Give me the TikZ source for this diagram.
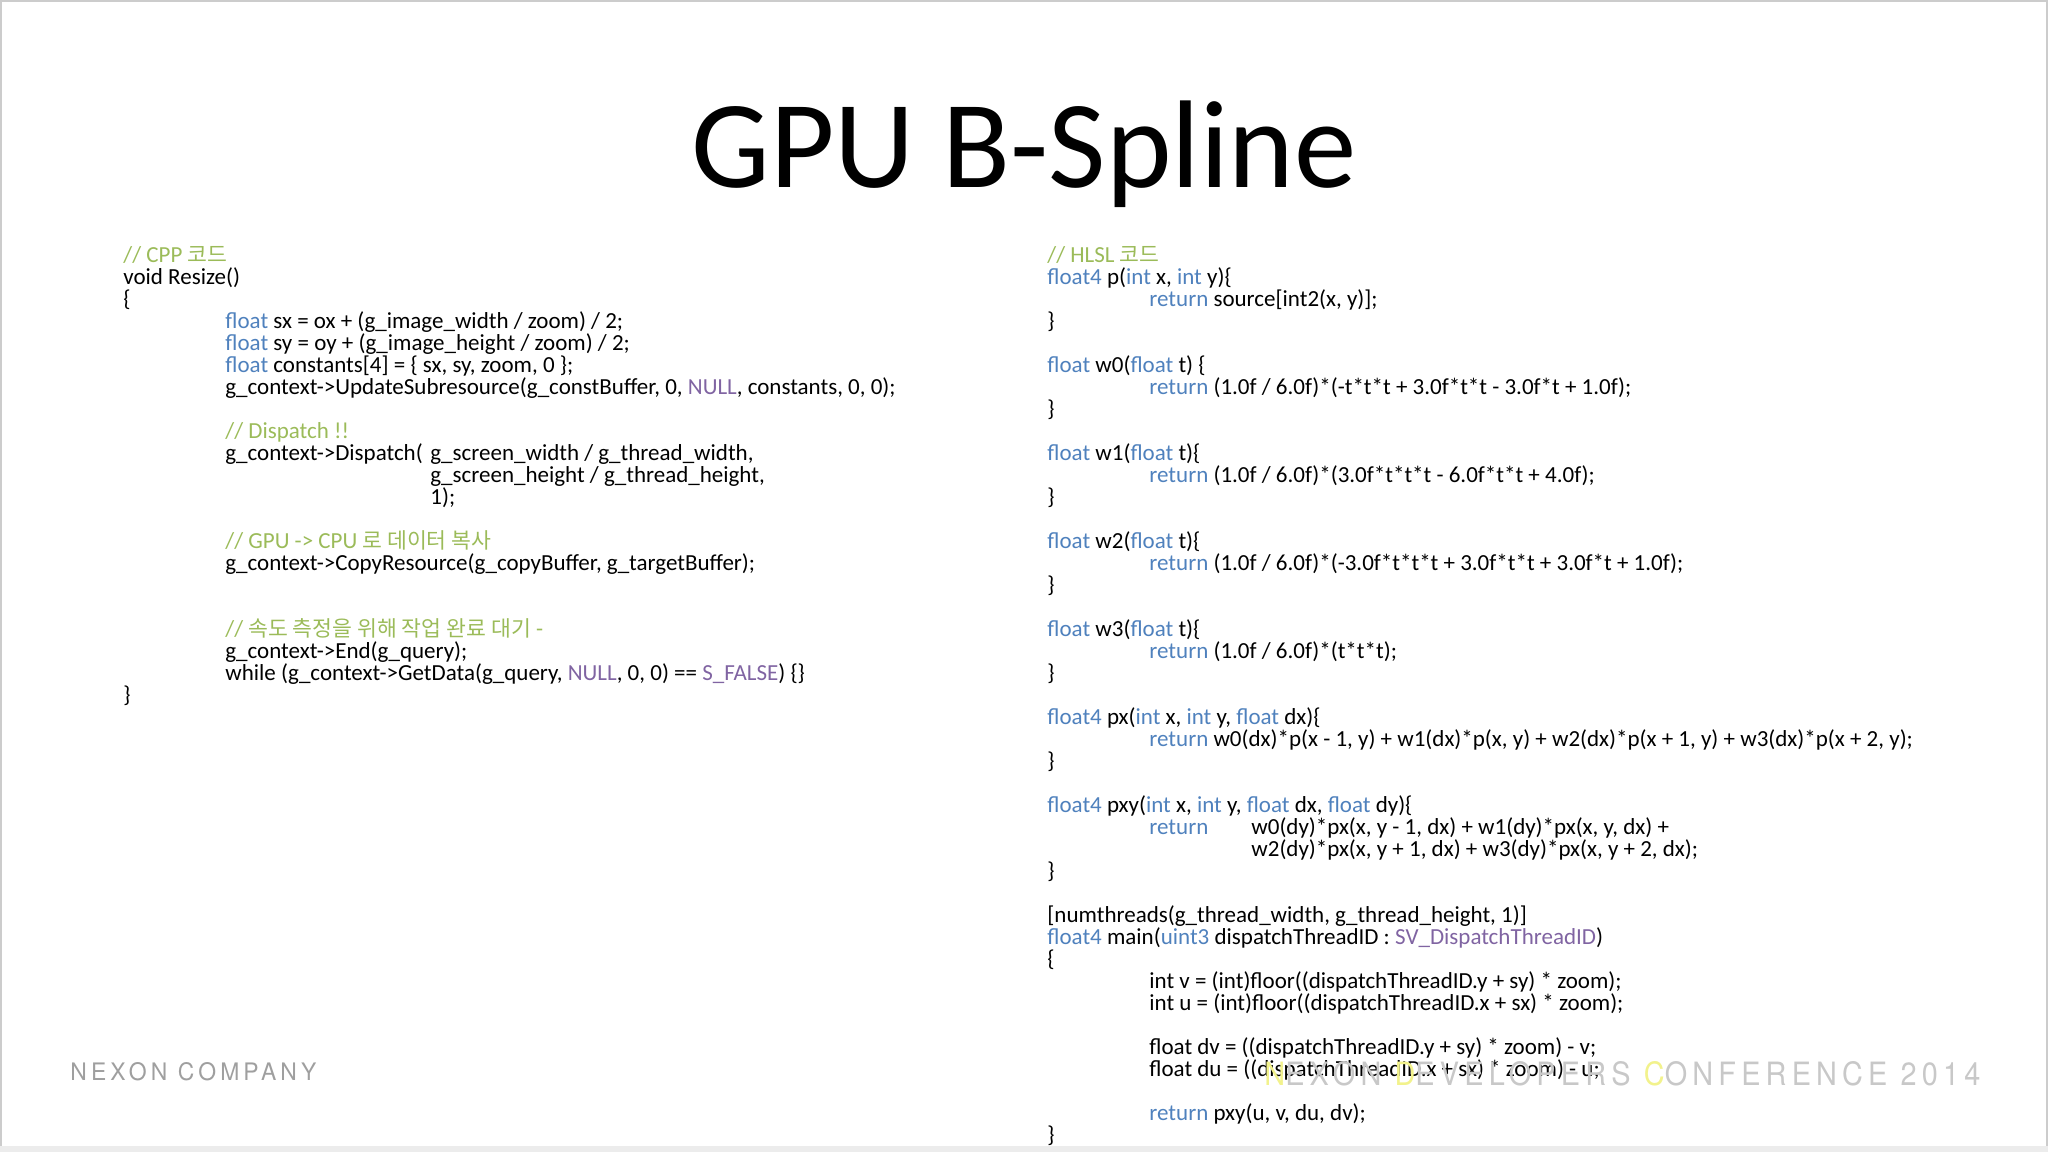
\documentclass[tikz,border=0pt]{standalone}
\usepackage{fontspec}
\setmainfont{Carlito}
\newfontfamily\krfont{Noto Sans CJK KR}
\newfontfamily\footfont[LetterSpace=18]{TeX Gyre Heros}
\definecolor{kwc}{HTML}{4F81BD}
\definecolor{cmc}{HTML}{9BBB59}
\definecolor{puc}{HTML}{8064A2}
\definecolor{footc}{HTML}{C8C8C8}
\definecolor{footy}{HTML}{F2F28C}
\newcommand\kw[1]{\textcolor{kwc}{#1}}
\newcommand\cm[1]{\textcolor{cmc}{#1}}
\newcommand\pu[1]{\textcolor{puc}{#1}}
\newcommand\kr[1]{{\krfont\fontsize{10.8pt}{12pt}\selectfont #1}}
\begin{document}
\begin{tikzpicture}[x=0.5pt,y=-0.5pt,
  code/.style={anchor=base west,inner sep=0pt,font=\fontsize{11.5pt}{13pt}\selectfont}]
\useasboundingbox (0,0) rectangle (2048,1152);
\draw[gray!40,line width=1pt] (1,1) rectangle (2047,1151);
\fill[gray!15] (0,1146) rectangle (2048,1152);
\node[anchor=base,inner sep=0pt,font=\fontsize{62.4pt}{70pt}\selectfont] (title) at (1024,187) {GPU B-Spline};
% left column
\def\xa{123}\def\xb{225}\def\xc{430}
\node[code] (l0) at (\xa,262) {\cm{// CPP \kr{코드}}};
\node[code] (l1) at (\xa,284) {void Resize()};
\node[code] (l2) at (\xa,306) {\{};
\node[code] (l3) at (\xb,328) {\kw{float} sx = ox + (g\_image\_width / zoom) / 2;};
\node[code] (l4) at (\xb,350) {\kw{float} sy = oy + (g\_image\_height / zoom) / 2;};
\node[code] (l5) at (\xb,372) {\kw{float} constants[4] = \{ sx, sy, zoom, 0 \};};
\node[code] (l6) at (\xb,394) {g\_context->UpdateSubresource(g\_constBuffer, 0, \pu{NULL}, constants, 0, 0);};
\node[code] (l8) at (\xb,438) {\cm{// Dispatch !!}};
\node[code] (l9) at (\xb,460) {g\_context->Dispatch(};
\node[code] (l9b) at (\xc,460) {g\_screen\_width / g\_thread\_width,};
\node[code] (l10) at (\xc,482) {g\_screen\_height / g\_thread\_height,};
\node[code] (l11) at (\xc,504) {1);};
\node[code] (l13) at (\xb,548) {\cm{// GPU -> CPU \kr{로 데이터 복사}}};
\node[code] (l14) at (\xb,570) {g\_context->CopyResource(g\_copyBuffer, g\_targetBuffer);};
\node[code] (l17) at (\xb,636) {\cm{// \kr{속도 측정을 위해 작업 완료 대기} -}};
\node[code] (l18) at (\xb,658) {g\_context->End(g\_query);};
\node[code] (l19) at (\xb,680) {while (g\_context->GetData(g\_query, \pu{NULL}, 0, 0) == \pu{S\_FALSE}) \{\}};
\node[code] (l20) at (\xa,702) {\}};
% right column
\def\ra{1047}\def\rb{1149}\def\rc{1251}
\node[code] (r0) at (\ra,262) {\cm{// HLSL \kr{코드}}};
\node[code] (r1) at (\ra,284) {\kw{float4} p(\kw{int} x, \kw{int} y)\{};
\node[code] (r2) at (\rb,306) {\kw{return} source[int2(x, y)];};
\node[code] (r3) at (\ra,328) {\}};
\node[code] (r5) at (\ra,372) {\kw{float} w0(\kw{float} t) \{};
\node[code] (r6) at (\rb,394) {\kw{return} (1.0f / 6.0f)*(-t*t*t + 3.0f*t*t - 3.0f*t + 1.0f);};
\node[code] (r7) at (\ra,416) {\}};
\node[code] (r9) at (\ra,460) {\kw{float} w1(\kw{float} t)\{};
\node[code] (r10) at (\rb,482) {\kw{return} (1.0f / 6.0f)*(3.0f*t*t*t - 6.0f*t*t + 4.0f);};
\node[code] (r11) at (\ra,504) {\}};
\node[code] (r13) at (\ra,548) {\kw{float} w2(\kw{float} t)\{};
\node[code] (r14) at (\rb,570) {\kw{return} (1.0f / 6.0f)*(-3.0f*t*t*t + 3.0f*t*t + 3.0f*t + 1.0f);};
\node[code] (r15) at (\ra,592) {\}};
\node[code] (r17) at (\ra,636) {\kw{float} w3(\kw{float} t)\{};
\node[code] (r18) at (\rb,658) {\kw{return} (1.0f / 6.0f)*(t*t*t);};
\node[code] (r19) at (\ra,680) {\}};
\node[code] (r21) at (\ra,724) {\kw{float4} px(\kw{int} x, \kw{int} y, \kw{float} dx)\{};
\node[code] (r22) at (\rb,746) {\kw{return} w0(dx)*p(x - 1, y) + w1(dx)*p(x, y) + w2(dx)*p(x + 1, y) + w3(dx)*p(x + 2, y);};
\node[code] (r23) at (\ra,768) {\}};
\node[code] (r25) at (\ra,812) {\kw{float4} pxy(\kw{int} x, \kw{int} y, \kw{float} dx, \kw{float} dy)\{};
\node[code] (r26) at (\rb,834) {\kw{return}};
\node[code] (r26b) at (\rc,834) {w0(dy)*px(x, y - 1, dx) + w1(dy)*px(x, y, dx) +};
\node[code] (r27) at (\rc,856) {w2(dy)*px(x, y + 1, dx) + w3(dy)*px(x, y + 2, dx);};
\node[code] (r28) at (\ra,878) {\}};
\node[code] (r30) at (\ra,922) {[numthreads(g\_thread\_width, g\_thread\_height, 1)]};
\node[code] (r31) at (\ra,944) {\kw{float4} main(\kw{uint3} dispatchThreadID : \pu{SV\_DispatchThreadID})};
\node[code] (r32) at (\ra,966) {\{};
\node[code] (r33) at (\rb,988) {int v = (int)floor((dispatchThreadID.y + sy) * zoom);};
\node[code] (r34) at (\rb,1010) {int u = (int)floor((dispatchThreadID.x + sx) * zoom);};
\node[code] (r36) at (\rb,1054) {float dv = ((dispatchThreadID.y + sy) * zoom) - v;};
\node[code] (r37) at (\rb,1076) {float du = ((dispatchThreadID.x + sx) * zoom) - u;};
\node[code] (r39) at (\rb,1120) {\kw{return} pxy(u, v, du, dv);};
\node[code] (r40) at (\ra,1142) {\}};
% footer
\node[anchor=base west,inner sep=0pt,text=gray!75] (nexon) at (70,1080)
 {\resizebox{123pt}{9pt}{\footfont NEXON COMPANY}};
\node[anchor=base west,inner sep=0pt,text=footc] (ndc) at (1264,1085)
 {\resizebox{358pt}{12pt}{\footfont\textcolor{footy}{N}EXON \textcolor{footy}{D}EVELOPERS \textcolor{footy}{C}ONFERENCE 2014}};
\end{tikzpicture}
\end{document}
